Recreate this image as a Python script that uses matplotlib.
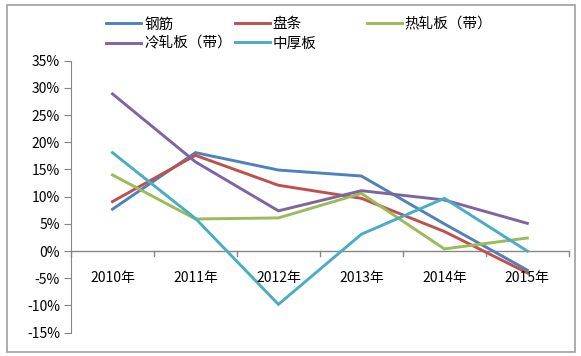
import matplotlib.pyplot as plt
from matplotlib.patches import Rectangle

plt.rcParams['font.family'] = ['Noto Sans CJK SC', 'DejaVu Sans']

# 数据
years = ['2010年', '2011年', '2012年', '2013年', '2014年', '2015年']
gangjin = [7.7, 18.1, 14.9, 13.8, 5.0, -3.5]
pantiao = [9.1, 17.6, 12.1, 9.7, 3.6, -4.0]
rezhaban = [14.0, 5.9, 6.1, 10.6, 0.4, 2.4]
lengzhaban = [28.9, 16.4, 7.4, 11.1, 9.4, 5.1]
zhonghouban = [18.1, 6.0, -9.8, 3.1, 9.7, 0.0]

names = ['钢筋', '盘条', '热轧板（带）', '冷轧板（带）', '中厚板']
series = [gangjin, pantiao, rezhaban, lengzhaban, zhonghouban]
colors = ['#4F81BD', '#C0504D', '#9BBB59', '#8064A2', '#4BACC6']

fig = plt.figure(figsize=(5.81, 3.56), dpi=100)
ax = fig.add_axes([0.1222, 0.0655, 0.8568, 0.764])

x = list(range(len(years)))
lines = {}
for name, vals, c in zip(names, series, colors):
    lines[name], = ax.plot(x, vals, color=c, lw=2.1, solid_joinstyle='miter')

ax.set_xlim(-0.5, len(years) - 0.5)
ax.set_ylim(-15, 35)
ax.set_yticks(range(-15, 36, 5))
ax.set_yticklabels([f'{v}%' for v in range(-15, 36, 5)], fontsize=10)

# x 轴画在 0 处
for s in ['top', 'right', 'bottom']:
    ax.spines[s].set_visible(False)
ax.spines['left'].set_color('#868686')
ax.axhline(0, color='#868686', lw=1, zorder=1)
ax.set_xticks([])
for b in [i + 0.5 for i in range(-1, len(years))]:
    ax.plot([b, b], [0, -0.9], color='#868686', lw=1, clip_on=False, zorder=1)
for i, lab in enumerate(years):
    ax.text(i, -4.9, lab, ha='center', va='center', fontsize=10)

ax.tick_params(axis='y', length=5, color='#868686', pad=3)

# 图例：三列分别放置
cols = [['钢筋', '冷轧板（带）'], ['盘条', '中厚板'], ['热轧板（带）']]
col_x = [0.183, 0.404, 0.631]
for col, cx in zip(cols, col_x):
    fig.legend([lines[n] for n in col], col, loc='upper left',
               bbox_to_anchor=(cx, 0.951), frameon=False, fontsize=10.5,
               handlelength=2.4, handletextpad=0.2, borderpad=0,
               borderaxespad=0, labelspacing=0.35)

# 外边框
fig.patches.append(Rectangle((0.012, 0.011), 0.978, 0.975, transform=fig.transFigure,
                             fill=False, edgecolor='#a0a0a0', lw=1.2))

fig.savefig('out.png', dpi=100)
